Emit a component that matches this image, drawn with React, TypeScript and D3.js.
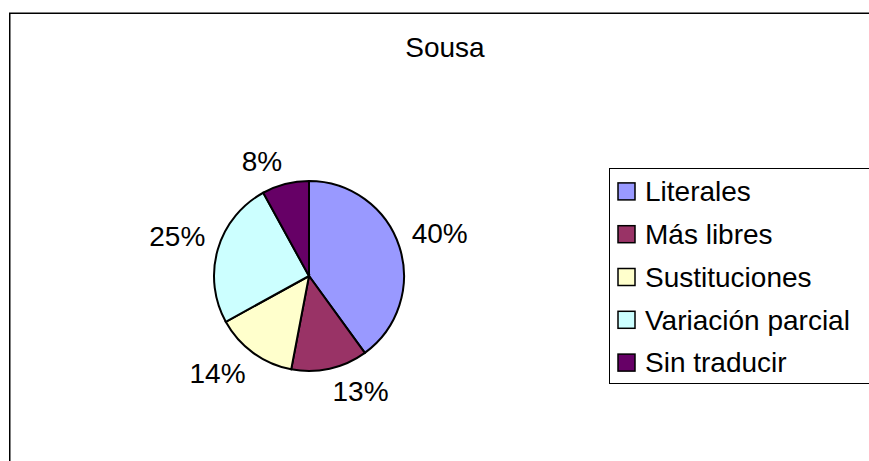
import * as d3 from "d3";

const categories = ["Literales", "Más libres", "Sustituciones", "Variación parcial", "Sin traducir"];
const values = [40, 13, 14, 25, 8];
const colors = ["#9999FF", "#993366", "#FFFFCC", "#CCFFFF", "#660066"];
const title = "Sousa";

type Slice = { label: string; value: number; color: string };

const slices: Slice[] = categories.map((c, i) => ({ label: c, value: values[i], color: colors[i] }));

const width = 869,
  height = 461;
const cx = 309,
  cy = 276,
  radius = 95;
const labelR = 108;
const fontSize = 28;
const capH = fontSize * 0.716;
const font = "Arial, 'Liberation Sans', sans-serif";

const App = () => {
  const total = d3.sum(values);
  const pie = d3.pie<Slice>().value((d) => d.value).sort(null);
  const arcs = pie(slices);
  const arc = d3.arc<d3.PieArcDatum<Slice>>().innerRadius(0).outerRadius(radius);
  const pct = d3.format(".0%");

  const legendY = d3.scaleBand<string>().domain(categories).range([170, 384]);

  return (
    <svg width={width} height={height} style={{ position: "absolute", left: 0, top: 0 }} fontFamily={font}>
      <rect x={0} y={0} width={width} height={height} fill="#fff" />
      <rect x={9.75} y={13.25} width={900} height={500} fill="none" stroke="#000" strokeWidth={1.5} />
      <text x={445} y={57} textAnchor="middle" fontSize={fontSize} fill="#000">
        {title}
      </text>
      <g transform={`translate(${cx},${cy})`}>
        {arcs.map((d) => (
          <path key={d.data.label} d={arc(d) ?? ""} fill={d.data.color} stroke="#000" strokeWidth={2} />
        ))}
        {arcs.map((d) => {
          // label's nearest corner sits on a circle just outside the pie
          const a = (d.startAngle + d.endAngle) / 2;
          const x = labelR * Math.sin(a);
          const y = -labelR * Math.cos(a);
          const anchor = x >= 0 ? "start" : "end";
          const base = y <= 0 ? y : y + capH;
          return (
            <text key={d.data.label} x={x} y={base} textAnchor={anchor} fontSize={fontSize} fill="#000">
              {pct(d.data.value / total)}
            </text>
          );
        })}
      </g>
      <rect x={609.5} y={168.5} width={300} height={215} fill="#fff" stroke="#000" strokeWidth={1} />
      {slices.map((s) => {
        const yc = (legendY(s.label) ?? 0) + legendY.bandwidth() / 2;
        return (
          <g key={s.label}>
            <rect x={618} y={yc - 8.5} width={17} height={17} fill={s.color} stroke="#000" strokeWidth={1.5} />
            <text x={645} y={yc} dy="0.35em" fontSize={fontSize} fill="#000">
              {s.label}
            </text>
          </g>
        );
      })}
    </svg>
  );
};

export default App;
